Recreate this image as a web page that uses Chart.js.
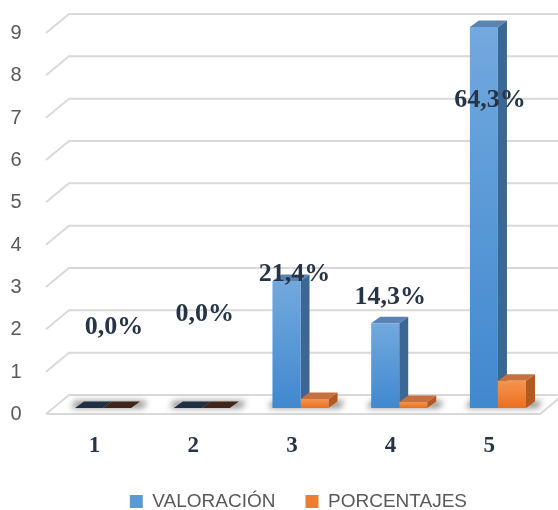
<!DOCTYPE html>
<html><head><meta charset="utf-8">
<script src="https://cdn.jsdelivr.net/npm/chart.js@4.4.1/dist/chart.umd.min.js"></script>
<style>html,body{margin:0;padding:0;background:#fff}</style>
</head><body>
<canvas id="c" width="558" height="510"></canvas>
<script>
const categorias = ['1', '2', '3', '4', '5'];
const valoracion = [0, 0, 3, 2, 9];
const porcentajes = [0, 0, 0.214, 0.143, 0.643];
const serieNombres = ['VALORACIÓN', 'PORCENTAJES'];
const yMin = 0, yMax = 9, yStep = 1;

const DX = 9, DY = -6.5;
const frontTop = ['#72a9de', '#f5954e'];
const frontBot = ['#4088cf', '#eb6f1f'];
const sideCol = ['#3a6794', '#b3581f'];
const topCol = ['#5983b2', '#c76f3e'];
const zeroCol = ['#1f3045', '#40261a'];
const legendCol = ['#5b9bd5', '#ed7d31'];

function frontColor(di) {
  return (ctx) => {
    const chart = ctx.chart;
    if (!chart.chartArea) return legendCol[di];
    const ya = chart.scales.y;
    const v = ctx.raw || 0;
    const top = ya.getPixelForValue(v), bot = ya.getPixelForValue(0);
    if (Math.abs(bot - top) < 1) return legendCol[di];
    const g = chart.ctx.createLinearGradient(0, top, 0, bot);
    g.addColorStop(0, frontTop[di]);
    g.addColorStop(1, frontBot[di]);
    return g;
  };
}

const escena3d = {
  id: 'escena3d',
  afterLayout(chart, args, opts) {
    const L = chart.legend;
    if (L) {
      L.left += opts.legendDx; L.right += opts.legendDx;
      L.top += opts.legendDy; L.bottom += opts.legendDy;
    }
  },
  beforeDatasetsDraw(chart) {
    const ctx = chart.ctx, ya = chart.scales.y, ca = chart.chartArea;
    const base = ya.getPixelForValue(0);
    const fx = ca.left - 7.7, bx = ca.left + 15.3;
    ctx.save();
    ctx.strokeStyle = '#d9d9d9';
    ctx.lineWidth = 2;
    ya.ticks.forEach(t => {
      const y = ya.getPixelForValue(t.value);
      ctx.beginPath();
      ctx.moveTo(fx, y + 6);
      ctx.lineTo(bx, y - 13);
      ctx.lineTo(chart.width + 2, y - 13);
      ctx.stroke();
    });
    ctx.beginPath();
    ctx.moveTo(fx, base + 6);
    ctx.lineTo(ca.right - 7.3, base + 6);
    ctx.lineTo(ca.right + 15.7, base - 13);
    ctx.stroke();
    const m0 = chart.getDatasetMeta(0), m1 = chart.getDatasetMeta(1);
    ctx.filter = 'blur(3px)';
    ctx.fillStyle = 'rgba(0,0,0,0.45)';
    for (let i = 0; i < categorias.length; i++) {
      const a = m0.data[i], b = m1.data[i];
      const l = a.x - a.width / 2, r = b.x + b.width / 2;
      ctx.beginPath();
      ctx.moveTo(l - 4, base);
      ctx.lineTo(r + 12, base);
      ctx.lineTo(r + 16, base - 7);
      ctx.lineTo(l, base - 7);
      ctx.closePath();
      ctx.fill();
    }
    ctx.filter = 'none';
    for (let i = 0; i < categorias.length; i++) {
      [m0, m1].forEach((m, di) => {
        const el = m.data[i];
        const x = el.x, y = el.y, w = el.width;
        const l = x - w / 2, r = x + w / 2;
        const zero = y >= base - 0.5;
        if (!zero) {
          ctx.fillStyle = sideCol[di];
          ctx.beginPath();
          ctx.moveTo(r, y); ctx.lineTo(r + DX, y + DY);
          ctx.lineTo(r + DX, base + DY); ctx.lineTo(r, base);
          ctx.closePath(); ctx.fill();
        }
        ctx.fillStyle = zero ? zeroCol[di] : topCol[di];
        ctx.beginPath();
        ctx.moveTo(l, y); ctx.lineTo(r, y);
        ctx.lineTo(r + DX, y + DY); ctx.lineTo(l + DX, y + DY);
        ctx.closePath(); ctx.fill();
      });
    }
    ctx.restore();
  },
  afterDatasetsDraw(chart, args, opts) {
    const ctx = chart.ctx, xa = chart.scales.x, ya = chart.scales.y;
    ctx.save();
    ctx.font = 'bold 26px "Liberation Serif", "Times New Roman", serif';
    ctx.fillStyle = '#263445';
    ctx.textAlign = 'center';
    ctx.textBaseline = 'middle';
    porcentajes.forEach((p, i) => {
      const txt = (p * 100).toFixed(1).replace('.', ',') + '%';
      const x = xa.getPixelForValue(i) + opts.dx[i];
      const y = ya.getPixelForValue(opts.yv[i]);
      ctx.fillText(txt, x, y);
    });
    ctx.restore();
  }
};

new Chart(document.getElementById('c'), {
  type: 'bar',
  data: {
    labels: categorias,
    datasets: [
      { label: serieNombres[0], data: valoracion, backgroundColor: frontColor(0), borderWidth: 0 },
      { label: serieNombres[1], data: porcentajes, backgroundColor: frontColor(1), borderWidth: 0 }
    ]
  },
  options: {
    responsive: false,
    animation: false,
    events: [],
    layout: { padding: { left: 10.5, right: 10.7, top: 27, bottom: -7 } },
    datasets: { bar: { categoryPercentage: 0.568, barPercentage: 1.0 } },
    scales: {
      x: {
        grid: { display: false, drawTicks: false },
        border: { display: false },
        ticks: {
          labelOffset: -8.6,
          padding: 24,
          color: '#263445',
          font: { family: '"Liberation Serif", "Times New Roman", serif', size: 23, weight: 'bold' }
        },
        afterFit(s) { s.height = 50; }
      },
      y: {
        min: yMin, max: yMax,
        grid: { display: false, drawTicks: false },
        border: { display: false },
        ticks: {
          stepSize: yStep,
          labelOffset: 6.5,
          padding: 0,
          crossAlign: 'far',
          color: '#595959',
          font: { family: '"Liberation Sans", Arial, sans-serif', size: 20 }
        },
        afterFit(s) { s.width = 43.2; }
      }
    },
    plugins: {
      tooltip: { enabled: false },
      legend: {
        position: 'bottom',
        labels: {
          boxWidth: 13, boxHeight: 13, padding: 30,
          color: '#595959',
          font: { family: '"Liberation Sans", Arial, sans-serif', size: 19 },
          generateLabels(chart) {
            return chart.data.datasets.map((d, i) => ({
              text: d.label, fillStyle: legendCol[i], strokeStyle: legendCol[i],
              lineWidth: 0, hidden: false, datasetIndex: i, fontColor: '#595959'
            }));
          }
        }
      },
      escena3d: {
        dx: [11, 3, -6, -9, -8],
        yv: [1.9, 2.22, 3.17, 2.62, 7.26],
        legendDx: 19.5,
        legendDy: 4
      }
    }
  },
  plugins: [escena3d]
});
</script>
</body></html>
